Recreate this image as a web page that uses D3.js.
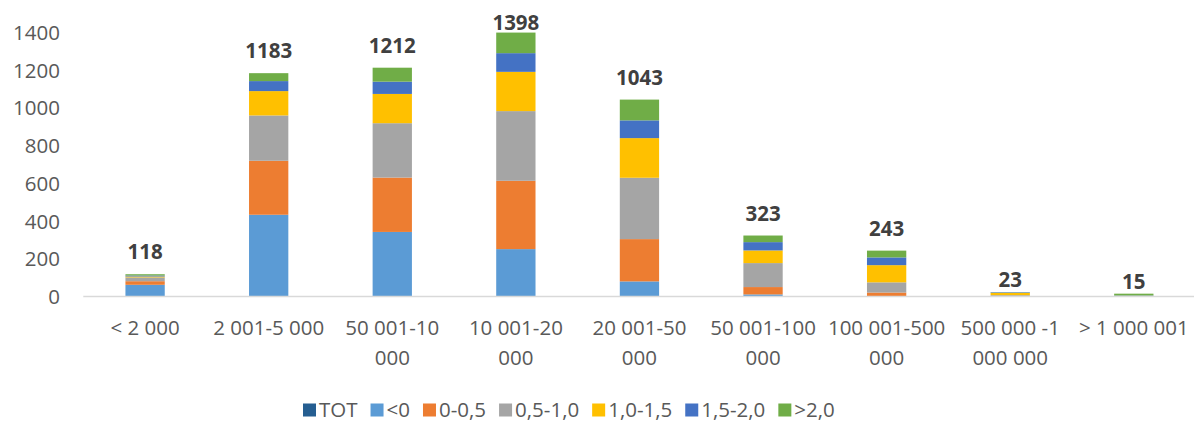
<!DOCTYPE html>
<html>
<head>
<meta charset="utf-8">
<script src="https://cdn.jsdelivr.net/npm/d3@7"></script>
<style>
  html, body { margin: 0; padding: 0; background: #fff; }
  svg { display: block; font-family: "Open Sans", "Liberation Sans", sans-serif; }
</style>
</head>
<body>
<svg id="chart" width="1194" height="422"></svg>
<script>
// Population size classes
const categories = ["< 2 000", "2 001-5 000", "50 001-10 000", "10 001-20 000", "20 001-50 000",
                    "50 001-100 000", "100 001-500 000", "500 000 -1 000 000", "> 1 000 001"];

// Counts per class and per range
const below0   = [62, 433, 342, 251, 80, 11, 2, 0, 0];
const r0_05    = [19, 286, 288, 362, 224, 39, 19, 2, 0];
const r05_10   = [20, 240, 288, 369, 325, 127, 54, 5, 1];
const r10_15   = [5, 129, 155, 208, 210, 67, 91, 12, 2];
const r15_20   = [5, 53, 65, 99, 94, 44, 41, 3, 2];
const above20  = [7, 42, 74, 109, 110, 35, 36, 1, 10];
const tot      = [118, 1183, 1212, 1398, 1043, 323, 243, 23, 15];

const seriesNames = ["<0", "0-0,5", "0,5-1,0", "1,0-1,5", "1,5-2,0", ">2,0"];
const seriesValues = [below0, r0_05, r05_10, r10_15, r15_20, above20];
const legendNames = ["TOT"].concat(seriesNames);
const yTicks = [0, 200, 400, 600, 800, 1000, 1200, 1400];

const colors = {
  "TOT": "#255E91", "<0": "#5B9BD5", "0-0,5": "#ED7D31", "0,5-1,0": "#A5A5A5",
  "1,0-1,5": "#FFC000", "1,5-2,0": "#4472C4", ">2,0": "#70AD47"
};

const FONT = "20.5px";
const svg = d3.select("#chart");
const rows = categories.map((c, i) => {
  const r = { cat: c };
  seriesNames.forEach((s, k) => { r[s] = seriesValues[k][i]; });
  return r;
});

const x = d3.scaleBand().domain(categories).range([83.3, 1195.6])
  .paddingInner(0.682).paddingOuter(0.341);
const y = d3.scaleLinear().domain([0, 1400]).range([296.5, 32.2]);

// Y axis labels (no axis line, no gridlines)
const yAxis = d3.axisLeft(y).tickValues(yTicks).tickFormat(d3.format("d"))
  .tickSize(0).tickPadding(0);
const gy = svg.append("g").attr("transform", "translate(60,0)").call(yAxis);
gy.select(".domain").remove();
gy.selectAll("text").attr("fill", "#595959").style("font-size", FONT)
  .style("font-family", "'Open Sans', sans-serif").attr("dy", "0.35em");

// Stacked bars
const stack = d3.stack().keys(seriesNames)(rows);
svg.append("g").selectAll("g").data(stack).join("g")
  .attr("fill", d => colors[d.key])
  .selectAll("rect").data(d => d).join("rect")
  .attr("x", d => x(d.data.cat))
  .attr("width", x.bandwidth())
  .attr("y", d => y(d[1]))
  .attr("height", d => Math.max(0, y(d[0]) - y(d[1])));

// Category axis
const xAxis = d3.axisBottom(x).tickSize(0).tickPadding(0);
const gx = svg.append("g").attr("transform", "translate(0,296.5)").call(xAxis);
gx.select(".domain").attr("d", "M83.3,0H1194").attr("stroke", "#D9D9D9").attr("stroke-width", 1.5);
gx.selectAll("text").attr("fill", "#595959").style("font-size", FONT)
  .style("font-family", "'Open Sans', sans-serif").attr("y", 0).attr("dy", null)
  .each(function(d) {
    const t = d3.select(this);
    const words = d.split(" ");
    t.text(null);
    const lines = [];
    let line = [];
    const probe = t.append("tspan");
    words.forEach(w => {
      const test = line.concat([w]).join(" ");
      probe.text(test);
      if (line.length && probe.node().getComputedTextLength() > 122) {
        lines.push(line.join(" "));
        line = [w];
      } else {
        line.push(w);
      }
    });
    lines.push(line.join(" "));
    probe.remove();
    lines.forEach((l, i) => {
      t.append("tspan").attr("x", 0).attr("y", 38 + i * 30).text(l);
    });
  });

// Total labels above bars
svg.append("g").selectAll("text").data(categories).join("text")
  .attr("x", c => x(c) + x.bandwidth() / 2)
  .attr("y", (c, i) => {
    const off = tot[i] < 50 ? 5 : 15;
    return Math.max(30, y(tot[i]) - off);
  })
  .attr("text-anchor", "middle")
  .attr("fill", "#404040")
  .style("font-size", FONT).style("font-weight", "bold")
  .text((c, i) => tot[i]);

// Legend
const lg = svg.append("g").attr("transform", "translate(303,410)");
let cx = 0;
legendNames.forEach(n => {
  const item = lg.append("g").attr("transform", `translate(${cx},0)`);
  item.append("rect").attr("x", 0).attr("y", -6.5).attr("width", 13).attr("height", 13)
    .attr("fill", colors[n]);
  const t = item.append("text").attr("x", 16).attr("y", 0).attr("dy", "0.35em")
    .attr("fill", "#595959").style("font-size", FONT).text(n);
  cx += 16 + t.node().getComputedTextLength() + 13;
});
</script>
</body>
</html>
